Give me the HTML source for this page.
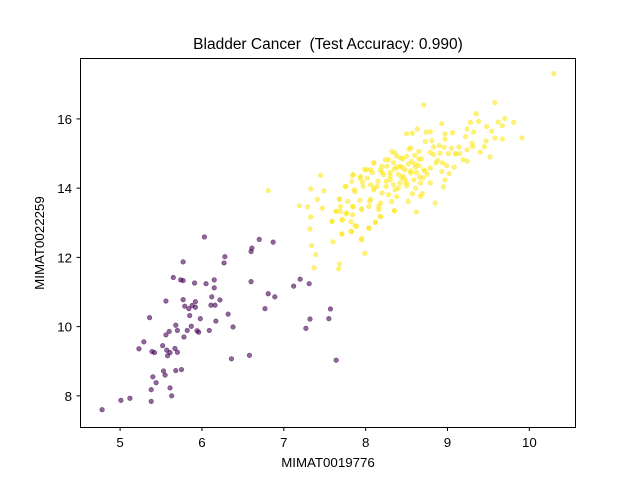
<!DOCTYPE html>
<html><head><meta charset="utf-8"><style>
body{margin:0;background:#fff;}
svg text{font-family:"Liberation Sans","DejaVu Sans",sans-serif;fill:#000;white-space:pre;}
</style></head><body>
<svg id="chart" width="640" height="480" viewBox="0 0 640 480" xmlns="http://www.w3.org/2000/svg">
<rect width="640" height="480" fill="#fff"/>
<text x="328" y="49" font-size="15.5" text-anchor="middle" xml:space="preserve">Bladder Cancer  (Test Accuracy: 0.990)</text>
<g id="marks"></g>
<rect x="80.5" y="58.5" width="495" height="369" fill="none" stroke="#000" stroke-width="1"/>
<g id="xticks"></g>
<g id="yticks"></g>
<text x="328" y="467" font-size="13.3" text-anchor="middle">MIMAT0019776</text>
<text x="0" y="0" font-size="13.3" text-anchor="middle" transform="translate(44,243) rotate(-90)">MIMAT0022259</text>
</svg>
<script>
const xTicks=[5,6,7,8,9,10];
const yTicks=[8,10,12,14,16];
const class0X=[6.03,6.70,6.87,6.61,6.60,6.28,6.27,5.77,5.65,5.74,5.77,5.91,6.05,6.15,6.15,6.60,6.81,6.89,6.12,6.22,5.77,5.92,5.56,5.79,5.84,5.88,5.92,6.11,6.16,6.77,5.36,5.85,5.98,6.32,6.17,5.68,5.87,5.60,5.70,5.82,5.94,5.96,6.09,6.38,5.56,5.78,5.29,5.52,5.23,5.39,5.42,5.57,5.61,5.67,5.70,5.58,6.36,6.58,5.53,5.68,5.75,5.55,5.40,5.44,5.38,5.61,5.12,5.01,5.38,5.63,4.78,7.20,7.12,7.31,7.57,7.32,7.55,7.27,7.64];
const class0Y=[12.59,12.52,12.44,12.27,12.17,12.02,11.84,11.87,11.42,11.35,11.33,11.26,11.24,11.35,11.12,11.30,10.95,10.86,10.86,10.77,10.78,10.72,10.74,10.59,10.52,10.61,10.56,10.62,10.62,10.52,10.26,10.32,10.23,10.36,10.16,10.04,10.01,9.86,9.89,9.89,9.88,9.84,9.89,9.99,9.76,9.70,9.56,9.45,9.36,9.28,9.25,9.32,9.25,9.37,9.26,9.16,9.07,9.17,8.72,8.73,8.76,8.60,8.55,8.38,8.18,8.23,7.93,7.87,7.84,8.00,7.60,11.37,11.17,11.24,10.51,10.22,10.23,9.95,9.03];
const class1X=[7.45,7.33,7.49,7.41,7.19,7.29,7.47,7.33,7.59,7.32,7.60,7.34,7.39,7.37,7.68,7.67,7.71,7.83,7.95,7.99,8.04,7.89,7.82,7.71,7.64,7.69,7.77,7.95,7.85,7.78,7.93,7.68,8.12,8.18,8.35,8.16,8.05,7.76,7.86,7.84,7.94,7.99,8.10,8.08,7.96,8.10,6.81,
10.30,9.58,8.71,9.35,9.91,9.70,9.81,9.62,9.67,9.48,9.54,9.58,9.67,9.38,9.28,9.24,9.32,9.22,9.47,9.52,9.40,9.31,9.24,9.19,9.24,9.14,9.10,9.05,8.97,8.97,9.06,8.93,8.79,8.74,8.63,8.57,8.50,8.73,8.81,8.96,8.90,8.53,8.65,8.79,8.83,9.01,9.10,8.94,8.86,8.99,9.08,8.79,8.93,9.02,8.97,8.95,8.85,8.62,8.35,8.79,8.66,8.71,8.61,8.65,8.56,8.50,8.43,8.36,8.28,8.26,8.34,8.42,8.48,8.55,8.46,8.59,8.67,8.61,8.50,8.42,8.34,8.30,8.22,8.18,8.10,8.01,8.02,7.93,7.85,7.83,7.75,7.87,7.97,8.06,8.14,8.20,8.10,8.06,8.18,8.16,8.18,8.12,8.28,8.32,8.38,8.52,8.57,8.67,8.69,8.04,7.95,7.84,7.84,7.76,7.69,7.68,7.64,7.59,7.72,7.87,8.04,7.82,7.71,7.95,8.06,8.20,8.24,8.32,8.38,8.55,8.83,8.91,
8.40,8.45,8.30,8.25,8.60,8.70,8.50,8.35,8.45,8.60,8.75,8.40,8.30,8.55,8.65,8.20,8.38,8.48,8.62,8.72,8.88,9.15,9.30,9.45,8.15,8.25,8.44,8.52,8.68,8.36];
const class1Y=[14.37,13.98,13.92,13.68,13.49,13.46,13.42,13.17,13.04,12.82,12.45,12.34,12.08,11.70,11.81,11.67,12.67,12.75,12.51,12.12,12.84,12.89,13.03,13.08,13.33,13.33,13.28,13.39,13.47,13.62,13.65,13.68,13.02,13.18,13.35,13.47,13.62,14.05,13.95,14.37,14.34,14.54,14.73,14.45,14.18,14.00,13.93,
17.31,16.47,16.40,16.15,15.45,16.01,15.90,15.91,15.80,15.78,15.65,15.45,15.42,15.93,15.90,15.71,15.62,15.49,15.36,14.90,15.04,15.20,15.11,14.82,14.78,15.19,15.00,15.15,15.42,15.57,15.60,15.87,15.63,15.62,15.71,15.59,15.57,15.35,15.37,15.18,15.23,15.13,15.06,15.03,14.97,15.00,14.99,14.73,14.73,14.65,14.61,14.58,14.48,14.42,14.24,14.04,13.57,13.31,13.35,14.15,14.32,14.53,14.61,14.84,14.77,14.92,14.87,15.01,14.82,14.63,14.73,14.63,14.53,14.44,14.34,14.24,14.15,14.00,14.07,14.15,14.10,14.24,14.39,14.53,14.73,14.53,14.29,14.29,14.39,14.19,14.05,13.90,14.05,14.10,14.05,13.86,13.95,13.68,13.57,13.38,13.18,13.01,13.81,13.62,13.76,13.62,13.84,13.76,13.84,13.47,13.40,13.47,13.23,13.26,13.47,13.68,13.33,13.04,13.09,12.92,12.85,12.75,12.68,12.54,14.53,14.63,14.82,15.06,14.92,15.16,15.19,15.01,
14.40,14.60,14.45,14.20,14.70,14.30,14.15,14.55,14.85,14.95,14.40,14.00,14.35,14.50,14.65,14.45,14.60,14.25,14.45,14.50,14.80,15.00,15.30,15.20,14.20,14.05,14.30,14.70,14.85,13.95];
const NS='http://www.w3.org/2000/svg';
const L=80,R=576,T=58,B=427;
const xmin=4.51,xmax=10.57,ymin=7.10,ymax=17.76;
function sx(v){return L+(v-xmin)/(xmax-xmin)*(R-L);}
function sy(v){return B-(v-ymin)/(ymax-ymin)*(B-T);}
const marks=document.getElementById('marks');
function dot(x,y,fill,name){
  const c=document.createElementNS(NS,'circle');
  c.setAttribute('cx',sx(x));c.setAttribute('cy',sy(y));c.setAttribute('r',2.3);
  c.setAttribute('fill',fill);c.setAttribute('fill-opacity',0.6);
  c.setAttribute('stroke',fill);c.setAttribute('stroke-opacity',0.6);c.setAttribute('stroke-width',0.6);
  
  
  marks.appendChild(c);
}
for(let i=0;i<class1X.length;i++)dot(class1X[i],class1Y[i],'#fde725','point-class-1');
for(let i=0;i<class0X.length;i++)dot(class0X[i],class0Y[i],'#440154','point-class-0');
const xg=document.getElementById('xticks');
xTicks.forEach(t=>{
  const x=sx(t);
  const l=document.createElementNS(NS,'line');
  l.setAttribute('x1',x);l.setAttribute('x2',x);l.setAttribute('y1',427.5);l.setAttribute('y2',431);l.setAttribute('stroke','#000');
  
  
  xg.appendChild(l);
  const tx=document.createElementNS(NS,'text');
  tx.setAttribute('x',x);tx.setAttribute('y',447);tx.setAttribute('font-size',13.3);tx.setAttribute('text-anchor','middle');
  tx.textContent=t;
  
  
  xg.appendChild(tx);
});
const yg=document.getElementById('yticks');
yTicks.forEach(t=>{
  const y=sy(t);
  const l=document.createElementNS(NS,'line');
  l.setAttribute('x1',76.5);l.setAttribute('x2',80.5);l.setAttribute('y1',y);l.setAttribute('y2',y);l.setAttribute('stroke','#000');
  
  
  yg.appendChild(l);
  const tx=document.createElementNS(NS,'text');
  tx.setAttribute('x',72);tx.setAttribute('y',y+5);tx.setAttribute('font-size',13.3);tx.setAttribute('text-anchor','end');
  tx.textContent=t;
  
  
  yg.appendChild(tx);
});
</script>
</body></html>
